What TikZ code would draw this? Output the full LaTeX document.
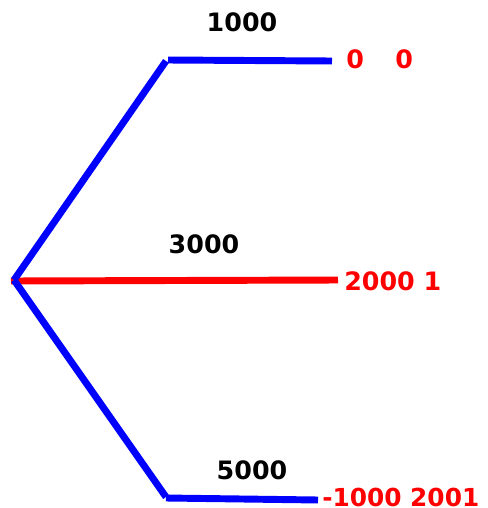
\documentclass[tikz,border=0pt]{standalone}
\usepackage{fontspec}
\setmainfont{DejaVu Sans}
\begin{document}
\begin{tikzpicture}[x=0.75pt,y=-0.75pt,
  branch/.style={line width=5.2pt},
  lbl/.style={font=\fontsize{19}{22}\selectfont\bfseries, inner sep=0pt},
  pay/.style={lbl, text=red, anchor=west}]
\useasboundingbox (0,0) rectangle (487,508);
\coordinate (root) at (14,280);
\coordinate (r0) at (11,281);
\coordinate (k1) at (166,61);
\coordinate (h1) at (168,60);
\coordinate (e1) at (332,61);
\coordinate (e2) at (338,280);
\coordinate (k3) at (166,497);
\coordinate (h3) at (166,498);
\coordinate (e3) at (318,500);
\draw[branch, red] (r0) -- (e2);
\draw[branch, blue] (root) -- (k1);
\draw[branch, blue] (h1) -- (e1);
\draw[branch, blue] (root) -- (k3);
\draw[branch, blue] (h3) -- (e3);
\node[lbl] (a1) at (242,22) {1000};
\node[lbl] (a2) at (204,244) {3000};
\node[lbl] (a3) at (252,470) {5000};
\node[pay] (p1a) at (346,59) {0};
\node[pay] (p1b) at (395,59) {0};
\node[pay] (p2) at (344,281) {2000 1};
\node[pay, font=\fontsize{18.6}{22}\selectfont\bfseries] (p3) at (322,497) {-1000 2001};
\end{tikzpicture}
\end{document}
